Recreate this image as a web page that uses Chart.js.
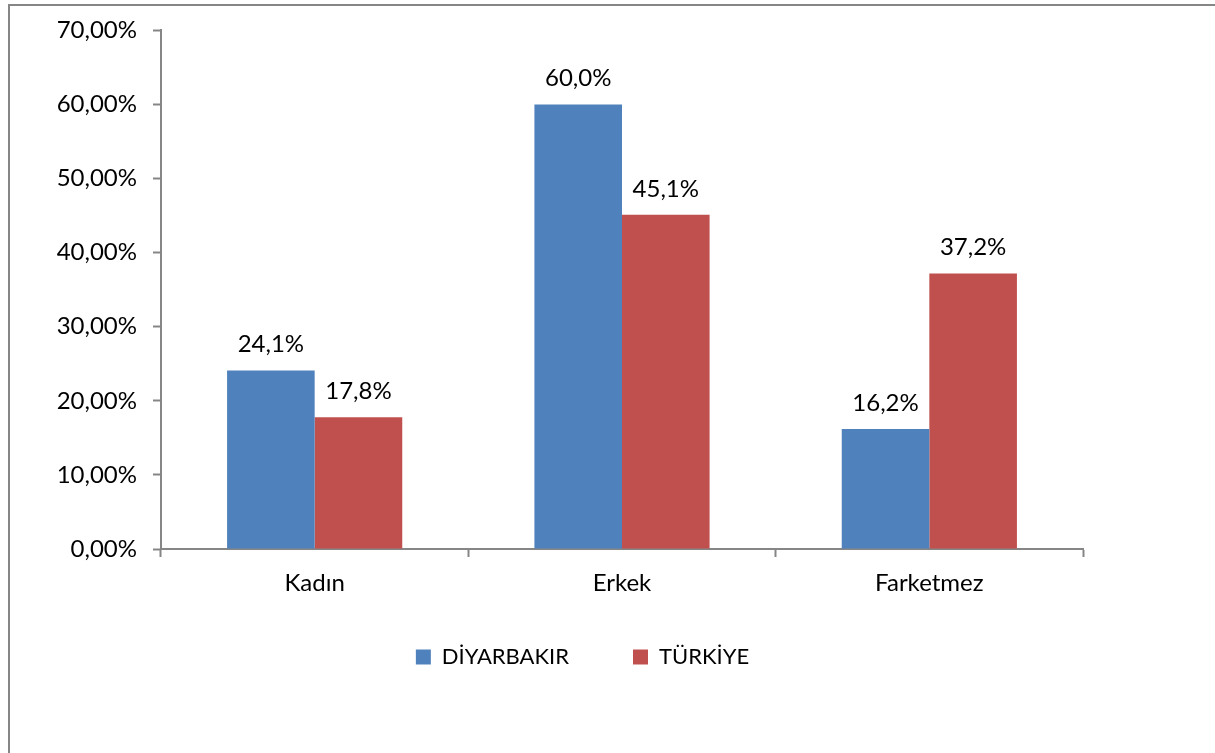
<!DOCTYPE html>
<html>
<head>
<meta charset="utf-8">
<script src="https://cdn.jsdelivr.net/npm/chart.js@4"></script>
<style>
    html, body { margin: 0; padding: 0; background: #fff; overflow: hidden; }
    #frame { position: absolute; left: 8px; top: 4px; width: 1230px; height: 780px; border: 2px solid #868686; }
    #wrap { position: absolute; left: 0; top: 0; width: 1215px; height: 753px; }
</style>
</head>
<body>
<div id="frame"></div>
<div id="wrap"><canvas id="chart"></canvas></div>
<script>
const categories = ['Kadın', 'Erkek', 'Farketmez'];
const diyarbakir = [24.1, 60.0, 16.2];
const turkiye = [17.8, 45.1, 37.2];
const seriesNames = ['DİYARBAKIR', 'TÜRKİYE'];
const yTicks = [0, 10, 20, 30, 40, 50, 60, 70];

const FONT = 'Lato, "Open Sans", sans-serif';
const AXIS_GRAY = '#868686';

function comma(v, digits) {
    return v.toFixed(digits).replace('.', ',');
}

// draws the value above each bar
const barValueLabels = {
    id: 'barValueLabels',
    afterDatasetsDraw(chart) {
        const ctx = chart.ctx;
        ctx.save();
        ctx.font = '24px ' + FONT;
        ctx.fillStyle = '#000';
        ctx.textAlign = 'center';
        ctx.textBaseline = 'middle';
        chart.data.datasets.forEach((ds, i) => {
            chart.getDatasetMeta(i).data.forEach((bar, j) => {
                ctx.fillText(comma(ds.data[j], 1) + '%', bar.x, bar.y - 26);
            });
        });
        ctx.restore();
    }
};

// pull the legend up closer to the category labels and a bit to the right
const legendNudge = {
    id: 'legendNudge',
    afterLayout(chart) {
        const lg = chart.legend;
        const h = lg.bottom - lg.top;
        lg.top = chart.chartArea.bottom + 33;
        lg.bottom = lg.top + h;
        lg.left += 41;
        lg.right += 41;
    }
};

new Chart(document.getElementById('chart'), {
    type: 'bar',
    data: {
        labels: categories,
        datasets: [
            { label: seriesNames[0], data: diyarbakir, backgroundColor: '#4F81BD' },
            { label: seriesNames[1], data: turkiye, backgroundColor: '#C0504D' }
        ]
    },
    options: {
        responsive: true,
        maintainAspectRatio: false,
        animation: false,
        datasets: { bar: { barPercentage: 1, categoryPercentage: 0.57 } },
        layout: { padding: { left: 0, right: 132, top: 30, bottom: 58 } },
        plugins: {
            tooltip: { enabled: false },
            legend: {
                position: 'bottom',
                labels: {
                    font: { family: FONT, size: 22 },
                    color: '#000',
                    boxWidth: 15,
                    boxHeight: 15,
                    padding: 64
                }
            }
        },
        scales: {
            x: {
                afterFit: s => { s.height = 50; },
                border: { color: AXIS_GRAY, width: 2 },
                grid: { drawOnChartArea: false, drawTicks: true, tickLength: 8, tickColor: AXIS_GRAY, tickWidth: 2, offset: true },
                ticks: { font: { family: FONT, size: 24 }, color: '#000', padding: 12 }
            },
            y: {
                min: 0,
                max: 70,
                afterFit: s => { s.width = 161; },
                afterBuildTicks: s => { s.ticks = yTicks.map(v => ({ value: v })); },
                border: { color: AXIS_GRAY, width: 2 },
                grid: { drawOnChartArea: false, drawTicks: true, tickLength: 8, tickColor: AXIS_GRAY, tickWidth: 2 },
                ticks: {
                    font: { family: FONT, size: 24 },
                    color: '#000',
                    padding: 16,
                    callback: v => comma(v, 2) + '%'
                }
            }
        }
    },
    plugins: [barValueLabels, legendNudge]
});
</script>
</body>
</html>
